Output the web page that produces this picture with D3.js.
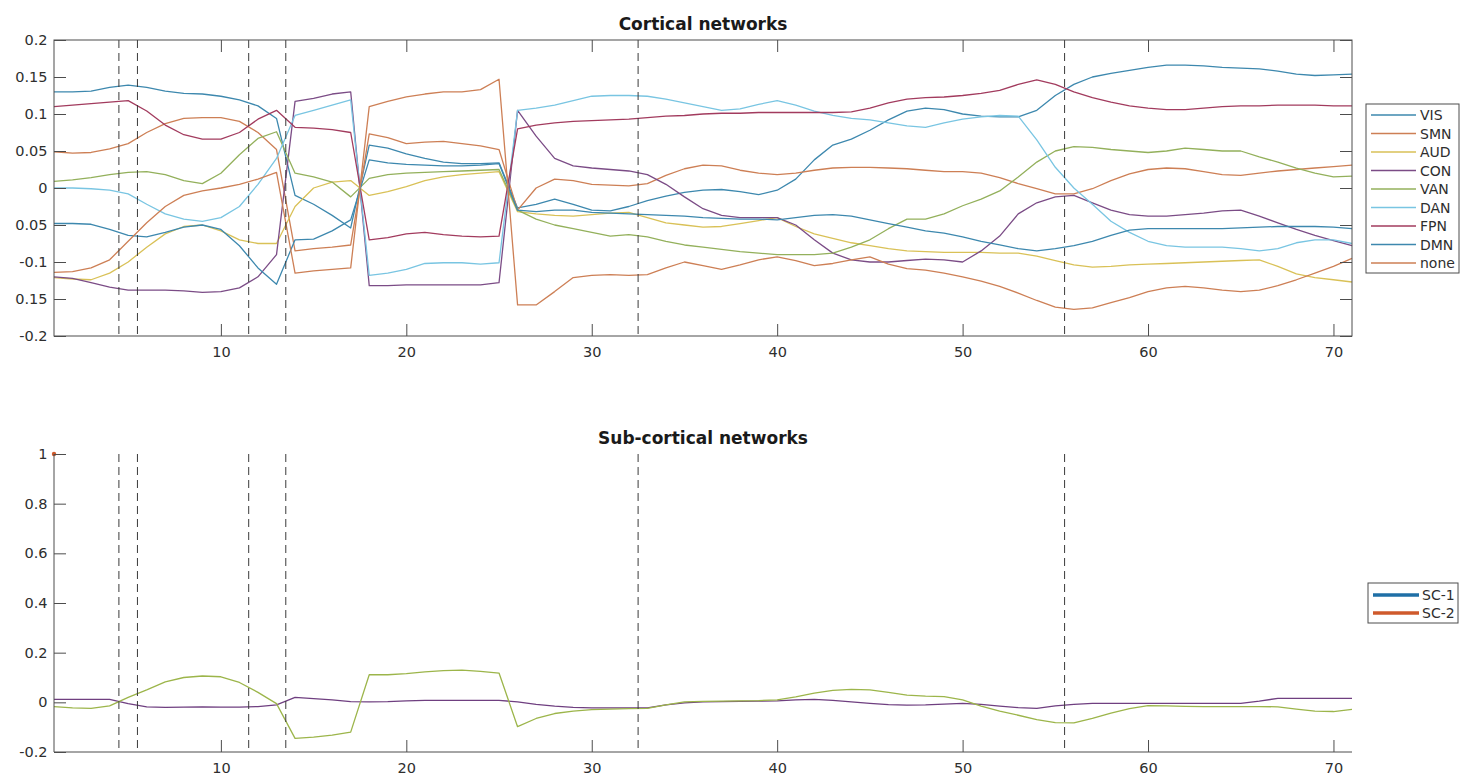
<!DOCTYPE html>
<html>
<head>
<meta charset="utf-8">
<script src="https://cdn.jsdelivr.net/npm/d3@7"></script>
<style>
  html, body { margin: 0; padding: 0; background: #fff; }
  svg { display: block; font-family: "DejaVu Sans", sans-serif; }
</style>
</head>
<body>
<svg id="fig" width="1460" height="778"></svg>
<script>
// ---- data -------------------------------------------------------------
const timePoints = d3.range(1, 72);               // 1 .. 71
const xTicks = [10, 20, 30, 40, 50, 60, 70];
const boundaries = [4.5, 5.5, 11.5, 13.5, 32.5, 55.5];

const networkNames = ["VIS", "SMN", "AUD", "CON", "VAN", "DAN", "FPN", "DMN", "none"];
const corticalTicks = [-0.2, -0.15, -0.1, -0.05, 0, 0.05, 0.1, 0.15, 0.2];

const VIS = [0.130, 0.130, 0.131, 0.136, 0.139, 0.136, 0.131, 0.128, 0.127, 0.124, 0.119, 0.111, 0.094,
  -0.010, -0.022, -0.037, -0.054,
  0.058, 0.054, 0.046, 0.040, 0.035, 0.033, 0.033, 0.034,
  -0.027, -0.022, -0.015, -0.022, -0.030, -0.031, -0.025, -0.017, -0.011, -0.006, -0.003, -0.002, -0.005, -0.009, -0.003,
  0.012, 0.038, 0.058, 0.066, 0.078, 0.092, 0.104, 0.108, 0.106, 0.100, 0.097, 0.096, 0.096, 0.105, 0.125,
  0.140, 0.150, 0.155, 0.159, 0.163, 0.166, 0.166, 0.165, 0.163, 0.162, 0.161, 0.158, 0.154, 0.152, 0.153, 0.154];

const SMN = [0.049, 0.047, 0.048, 0.053, 0.060, 0.075, 0.087, 0.094, 0.095, 0.095, 0.090, 0.075, 0.052,
  -0.085, -0.082, -0.080, -0.077,
  0.073, 0.068, 0.060, 0.062, 0.063, 0.060, 0.057, 0.052,
  -0.030, 0.000, 0.012, 0.010, 0.005, 0.004, 0.003, 0.006, 0.017, 0.026, 0.031, 0.030, 0.024, 0.020, 0.018,
  0.020, 0.024, 0.027, 0.028, 0.028, 0.027, 0.026, 0.024, 0.022, 0.022, 0.020, 0.014, 0.006, -0.001, -0.008,
  -0.008, -0.001, 0.010, 0.019, 0.025, 0.027, 0.026, 0.022, 0.018, 0.017, 0.020, 0.023, 0.025, 0.027, 0.029, 0.031];

const AUD = [-0.121, -0.123, -0.124, -0.115, -0.100, -0.080, -0.062, -0.052, -0.050, -0.058, -0.070, -0.075, -0.075,
  -0.025, 0.000, 0.008, 0.010,
  -0.010, -0.005, 0.002, 0.010, 0.015, 0.018, 0.020, 0.022,
  -0.032, -0.035, -0.037, -0.038, -0.036, -0.034, -0.033, -0.040, -0.047, -0.050, -0.053, -0.052, -0.048, -0.044, -0.040,
  -0.052, -0.062, -0.068, -0.074, -0.078, -0.082, -0.085, -0.086, -0.087, -0.087, -0.087, -0.088, -0.088, -0.092, -0.098,
  -0.104, -0.107, -0.106, -0.104, -0.103, -0.102, -0.101, -0.100, -0.099, -0.098, -0.097, -0.106, -0.116, -0.121, -0.124, -0.127];

const CON = [-0.120, -0.122, -0.128, -0.134, -0.138, -0.138, -0.138, -0.139, -0.141, -0.140, -0.135, -0.120, -0.090,
  0.117, 0.121, 0.127, 0.130,
  -0.132, -0.132, -0.131, -0.131, -0.131, -0.131, -0.131, -0.128,
  0.105, 0.070, 0.040, 0.030, 0.027, 0.025, 0.023, 0.018, 0.005, -0.012, -0.028, -0.037, -0.040, -0.040, -0.040,
  -0.050, -0.070, -0.088, -0.097, -0.100, -0.100, -0.098, -0.096, -0.097, -0.100, -0.085, -0.065, -0.035, -0.020, -0.012,
  -0.010, -0.020, -0.030, -0.036, -0.038, -0.038, -0.036, -0.034, -0.031, -0.030, -0.038, -0.047, -0.056, -0.064, -0.071, -0.078];

const VAN = [0.009, 0.011, 0.014, 0.018, 0.021, 0.022, 0.018, 0.010, 0.006, 0.020, 0.045, 0.067, 0.076,
  0.020, 0.015, 0.008, -0.012,
  0.013, 0.018, 0.020, 0.021, 0.022, 0.023, 0.024, 0.025,
  -0.030, -0.042, -0.050, -0.055, -0.060, -0.065, -0.063, -0.066, -0.072, -0.077, -0.080, -0.083, -0.086, -0.088, -0.090,
  -0.090, -0.090, -0.088, -0.080, -0.070, -0.055, -0.042, -0.042, -0.035, -0.024, -0.015, -0.004, 0.015, 0.035, 0.050,
  0.056, 0.055, 0.052, 0.050, 0.048, 0.050, 0.054, 0.052, 0.050, 0.050, 0.042, 0.035, 0.027, 0.020, 0.015, 0.016];

const DAN = [0.000, 0.000, -0.001, -0.003, -0.008, -0.022, -0.035, -0.042, -0.045, -0.040, -0.025, 0.005, 0.040,
  0.098, 0.105, 0.112, 0.119,
  -0.118, -0.115, -0.110, -0.102, -0.101, -0.101, -0.103, -0.101,
  0.105, 0.108, 0.112, 0.118, 0.124, 0.125, 0.125, 0.124, 0.120, 0.115, 0.110, 0.105, 0.107, 0.113, 0.118,
  0.112, 0.104, 0.098, 0.094, 0.092, 0.088, 0.084, 0.082, 0.088, 0.093, 0.096, 0.098, 0.097, 0.065, 0.028,
  0.000, -0.022, -0.045, -0.060, -0.072, -0.078, -0.080, -0.080, -0.080, -0.082, -0.085, -0.082, -0.074, -0.070, -0.070, -0.075];

const FPN = [0.110, 0.112, 0.114, 0.116, 0.118, 0.104, 0.085, 0.072, 0.066, 0.066, 0.075, 0.093, 0.105,
  0.082, 0.081, 0.079, 0.075,
  -0.070, -0.067, -0.062, -0.060, -0.063, -0.065, -0.066, -0.065,
  0.080, 0.085, 0.088, 0.090, 0.091, 0.092, 0.093, 0.095, 0.097, 0.098, 0.100, 0.101, 0.101, 0.102, 0.102,
  0.102, 0.102, 0.102, 0.103, 0.108, 0.115, 0.120, 0.122, 0.123, 0.125, 0.128, 0.132, 0.140, 0.146, 0.140,
  0.130, 0.122, 0.116, 0.111, 0.108, 0.106, 0.106, 0.108, 0.110, 0.111, 0.111, 0.112, 0.112, 0.112, 0.111, 0.111];

const DMN = [-0.048, -0.048, -0.049, -0.056, -0.064, -0.066, -0.060, -0.053, -0.050, -0.056, -0.078, -0.108, -0.130,
  -0.070, -0.069, -0.058, -0.043,
  0.038, 0.034, 0.032, 0.031, 0.030, 0.030, 0.031, 0.033,
  -0.030, -0.032, -0.030, -0.030, -0.033, -0.034, -0.035, -0.036, -0.037, -0.038, -0.040, -0.041, -0.042, -0.042, -0.043,
  -0.040, -0.037, -0.036, -0.038, -0.043, -0.048, -0.053, -0.058, -0.061, -0.066, -0.072, -0.077, -0.082, -0.085, -0.082,
  -0.078, -0.072, -0.064, -0.057, -0.055, -0.055, -0.055, -0.055, -0.055, -0.054, -0.053, -0.052, -0.052, -0.052, -0.053, -0.055];

const NONE = [-0.114, -0.113, -0.108, -0.097, -0.072, -0.047, -0.025, -0.010, -0.004, 0.000, 0.005, 0.012, 0.021,
  -0.115, -0.112, -0.110, -0.108,
  0.110, 0.117, 0.123, 0.127, 0.130, 0.130, 0.133, 0.147,
  -0.158, -0.158, -0.140, -0.121, -0.118, -0.117, -0.118, -0.117, -0.108, -0.100, -0.105, -0.110, -0.104, -0.097, -0.093,
  -0.098, -0.105, -0.102, -0.097, -0.093, -0.103, -0.109, -0.111, -0.115, -0.120, -0.126, -0.133, -0.142, -0.152, -0.161,
  -0.164, -0.162, -0.155, -0.148, -0.140, -0.135, -0.133, -0.135, -0.138, -0.140, -0.138, -0.132, -0.124, -0.115, -0.106, -0.095];

const corticalSeries = [VIS, SMN, AUD, CON, VAN, DAN, FPN, DMN, NONE];

// sub-cortical panel
const subNames = ["SC-1", "SC-2"];
const subTicks = [-0.2, 0, 0.2, 0.4, 0.6, 0.8, 1];

const subA = [0.012, 0.012, 0.012, 0.012, -0.005, -0.018, -0.020, -0.019, -0.018, -0.019, -0.019, -0.017, -0.010,
  0.020, 0.015, 0.010, 0.003, 0.002, 0.003, 0.006, 0.008, 0.008, 0.008, 0.008, 0.008,
  0.002, -0.008, -0.015, -0.020, -0.022, -0.022, -0.022, -0.022, -0.010, -0.002, 0.002, 0.003, 0.004, 0.005, 0.006,
  0.010, 0.012, 0.008, 0.002, -0.004, -0.009, -0.011, -0.010, -0.007, -0.004, -0.008, -0.015, -0.021, -0.024, -0.014,
  -0.008, -0.004, -0.004, -0.004, -0.004, -0.004, -0.004, -0.004, -0.004, -0.004, 0.005, 0.016, 0.016, 0.016, 0.016, 0.016];

const subB = [-0.017, -0.022, -0.024, -0.014, 0.020, 0.050, 0.082, 0.100, 0.106, 0.103, 0.080, 0.040, -0.005,
  -0.145, -0.140, -0.132, -0.120, 0.111, 0.111, 0.116, 0.123, 0.128, 0.130, 0.125, 0.118,
  -0.098, -0.065, -0.045, -0.035, -0.029, -0.027, -0.025, -0.024, -0.010, 0.002, 0.004, 0.005, 0.006, 0.007, 0.010,
  0.022, 0.037, 0.048, 0.052, 0.050, 0.040, 0.029, 0.025, 0.023, 0.010, -0.015, -0.035, -0.052, -0.070, -0.082,
  -0.083, -0.065, -0.043, -0.025, -0.013, -0.014, -0.016, -0.017, -0.017, -0.017, -0.017, -0.018, -0.027, -0.035, -0.037, -0.028];

const subSeries = [subA, subB];
const subPeak = [{ t: 1, v: 1 }];

// ---- styles -----------------------------------------------------------
const corticalColors = ["#3d88ae", "#cd7f55", "#d9c157", "#7b4c86", "#93b05b",
                        "#79c5e2", "#a23b5e", "#3d88ae", "#cd7f55"];
const subLineColors = ["#6f3f80", "#9cb54a"];
const subLegendColors = ["#1f6fa6", "#cf5a2c"];
const axisColor = "#4d4d4d";
const textColor = "#2e2e2e";
const tickFont = "14.5px";

// ---- layout -----------------------------------------------------------
const svg = d3.select("#fig");
const x = d3.scaleLinear().domain([1, 71]).range([54, 1352]);
const yC = d3.scaleLinear().domain([-0.2, 0.2]).range([336, 40]);
const yS = d3.scaleLinear().domain([-0.2, 1]).range([752, 454]);

const fmt = v => { const r = +(+v).toFixed(2); return r === 0 ? "0" : String(r); };

// the figure is cut at its left margin, which hides the sign of the widest labels
svg.append("defs").append("clipPath").attr("id", "figMargin")
  .append("rect").attr("x", 15).attr("y", 0).attr("width", 1445).attr("height", 778);

function styleAxis(g, fontSize) {
  g.select(".domain").remove();
  g.attr("font-family", "DejaVu Sans, sans-serif").attr("font-size", fontSize || tickFont);
  g.selectAll(".tick line").attr("stroke", axisColor).attr("stroke-width", 1);
  g.selectAll(".tick text").attr("fill", textColor);
}

// ===== Cortical networks =====
const panelC = svg.append("g");

const lineC = d3.line().x((d, i) => x(timePoints[i])).y(d => yC(d));
panelC.append("g").selectAll("path").data(corticalSeries).join("path")
  .attr("d", d => lineC(d))
  .attr("fill", "none")
  .attr("stroke", (d, i) => corticalColors[i])
  .attr("stroke-width", 1.3)
  .attr("stroke-linejoin", "round");

panelC.append("g").selectAll("line").data(boundaries).join("line")
  .attr("x1", d => x(d)).attr("x2", d => x(d))
  .attr("y1", yC(0.2)).attr("y2", yC(-0.2))
  .attr("stroke", "#3a3a3a").attr("stroke-width", 1)
  .attr("stroke-dasharray", "8,5");

panelC.append("rect")
  .attr("x", x(1)).attr("y", yC(0.2))
  .attr("width", x(71) - x(1)).attr("height", yC(-0.2) - yC(0.2))
  .attr("fill", "none").attr("stroke", axisColor).attr("stroke-width", 1);

panelC.append("g").attr("clip-path", "url(#figMargin)")
  .append("g").attr("transform", `translate(${x(1)},0)`)
  .call(d3.axisLeft(yC).tickValues(corticalTicks).tickSize(-12).tickPadding(6.5).tickFormat(fmt))
  .call(g => styleAxis(g));
panelC.append("g").attr("transform", `translate(${x(71)},0)`)
  .call(d3.axisRight(yC).tickValues(corticalTicks).tickSize(-12).tickFormat(""))
  .call(g => styleAxis(g));
panelC.append("g").attr("transform", `translate(0,${yC(-0.2)})`)
  .call(d3.axisBottom(x).tickValues(xTicks).tickSize(-12).tickPadding(11).tickFormat(d3.format("d")))
  .call(g => styleAxis(g));
panelC.append("g").attr("transform", `translate(0,${yC(0.2)})`)
  .call(d3.axisTop(x).tickValues(xTicks).tickSize(-12).tickFormat(""))
  .call(g => styleAxis(g));

panelC.append("text")
  .attr("x", (x(1) + x(71)) / 2).attr("y", 30)
  .attr("text-anchor", "middle")
  .attr("font-size", "17px").attr("font-weight", "bold").attr("fill", "#1a1a1a")
  .text("Cortical networks");

// legend
const legC = panelC.append("g").attr("transform", "translate(1366,104)");
legC.append("rect").attr("width", 93).attr("height", 169)
  .attr("fill", "#fff").attr("stroke", axisColor).attr("stroke-width", 1);
const legCItems = legC.selectAll("g.item").data(networkNames).join("g")
  .attr("class", "item")
  .attr("transform", (d, i) => `translate(0,${11 + i * 18.5})`);
legCItems.append("line")
  .attr("x1", 5).attr("x2", 50)
  .attr("stroke", (d, i) => corticalColors[i]).attr("stroke-width", 1.3);
legCItems.append("text")
  .attr("x", 54).attr("dy", "0.36em")
  .attr("font-size", "14px").attr("fill", textColor)
  .text(d => d);

// ===== Sub-cortical networks =====
const panelS = svg.append("g");

const lineS = d3.line().x((d, i) => x(timePoints[i])).y(d => yS(d));
panelS.append("g").selectAll("path").data(subSeries).join("path")
  .attr("d", d => lineS(d))
  .attr("fill", "none")
  .attr("stroke", (d, i) => subLineColors[i])
  .attr("stroke-width", 1.3)
  .attr("stroke-linejoin", "round");

panelS.append("g").selectAll("circle").data(subPeak).join("circle")
  .attr("cx", d => x(d.t)).attr("cy", d => yS(d.v)).attr("r", 2.2)
  .attr("fill", subLegendColors[1]);

panelS.append("g").selectAll("line").data(boundaries).join("line")
  .attr("x1", d => x(d)).attr("x2", d => x(d))
  .attr("y1", yS(1)).attr("y2", yS(-0.2))
  .attr("stroke", "#3a3a3a").attr("stroke-width", 1)
  .attr("stroke-dasharray", "8,5");

// axis lines (no box on this panel)
panelS.append("line")
  .attr("x1", x(1)).attr("x2", x(1)).attr("y1", yS(1)).attr("y2", yS(-0.2))
  .attr("stroke", axisColor).attr("stroke-width", 1);
panelS.append("line")
  .attr("x1", x(1)).attr("x2", x(71)).attr("y1", yS(-0.2)).attr("y2", yS(-0.2))
  .attr("stroke", axisColor).attr("stroke-width", 1);

panelS.append("g").attr("clip-path", "url(#figMargin)")
  .append("g").attr("transform", `translate(${x(1)},0)`)
  .call(d3.axisLeft(yS).tickValues(subTicks).tickSize(-12).tickPadding(6.5).tickFormat(fmt))
  .call(g => styleAxis(g));
panelS.append("g").attr("transform", `translate(0,${yS(-0.2)})`)
  .call(d3.axisBottom(x).tickValues(xTicks).tickSize(-12).tickPadding(11).tickFormat(d3.format("d")))
  .call(g => styleAxis(g));

panelS.append("text")
  .attr("x", (x(1) + x(71)) / 2).attr("y", 444)
  .attr("text-anchor", "middle")
  .attr("font-size", "17px").attr("font-weight", "bold").attr("fill", "#1a1a1a")
  .text("Sub-cortical networks");

const legS = panelS.append("g").attr("transform", "translate(1368,583)");
legS.append("rect").attr("width", 90).attr("height", 40)
  .attr("fill", "#fff").attr("stroke", axisColor).attr("stroke-width", 1);
const legSItems = legS.selectAll("g.item").data(subNames).join("g")
  .attr("class", "item")
  .attr("transform", (d, i) => `translate(0,${12 + i * 18})`);
legSItems.append("line")
  .attr("x1", 5).attr("x2", 51)
  .attr("stroke", (d, i) => subLegendColors[i]).attr("stroke-width", 3.5);
legSItems.append("text")
  .attr("x", 54).attr("dy", "0.36em")
  .attr("font-size", "14px").attr("fill", textColor)
  .text(d => d);
</script>
</body>
</html>
